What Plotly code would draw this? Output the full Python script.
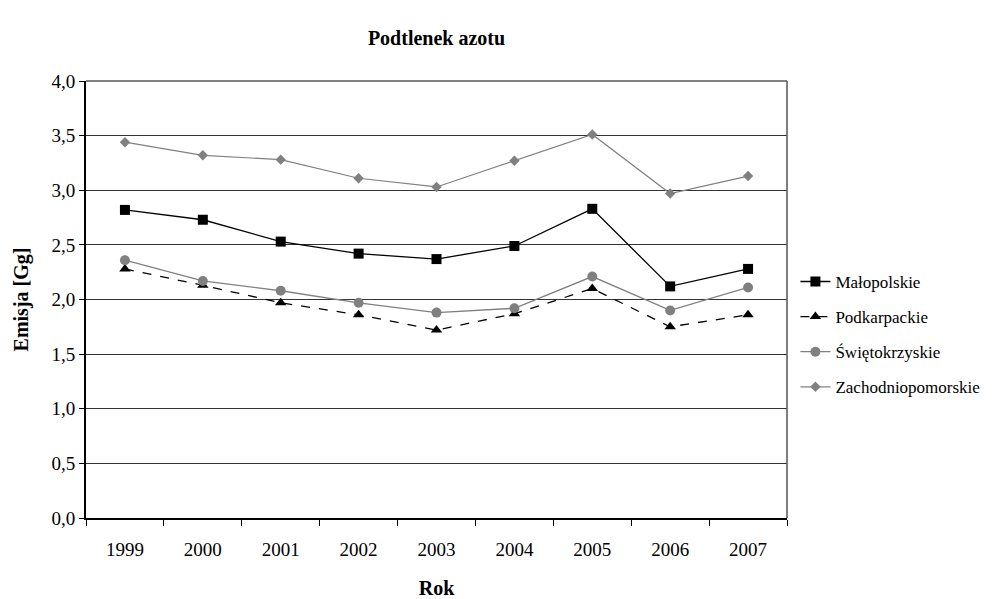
import plotly.graph_objects as go

years = ["1999", "2000", "2001", "2002", "2003", "2004", "2005", "2006", "2007"]
malopolskie = [2.82, 2.73, 2.53, 2.42, 2.37, 2.49, 2.83, 2.12, 2.28]
podkarpackie = [2.28, 2.13, 1.97, 1.86, 1.72, 1.87, 2.10, 1.75, 1.86]
swietokrzyskie = [2.36, 2.17, 2.08, 1.97, 1.88, 1.92, 2.21, 1.90, 2.11]
zachodniopomorskie = [3.44, 3.32, 3.28, 3.11, 3.03, 3.27, 3.51, 2.97, 3.13]
y_ticks = [0.0, 0.5, 1.0, 1.5, 2.0, 2.5, 3.0, 3.5, 4.0]
y_tick_text = ["0,0", "0,5", "1,0", "1,5", "2,0", "2,5", "3,0", "3,5", "4,0"]

FONT = "Liberation Serif"

series = [
    ("Małopolskie", malopolskie, dict(color="black", width=1.3, dash="solid"),
     dict(symbol="square", size=10, color="black")),
    ("Podkarpackie", podkarpackie, dict(color="black", width=1.3, dash="dash"),
     dict(symbol="triangle-up", size=10, color="black")),
    ("Świętokrzyskie", swietokrzyskie, dict(color="#808080", width=1.3, dash="solid"),
     dict(symbol="circle", size=10, color="#808080")),
    ("Zachodniopomorskie", zachodniopomorskie, dict(color="#808080", width=1.2, dash="solid"),
     dict(symbol="diamond", size=8, color="#808080")),
]

fig = go.Figure()
for i, (name, vals, line, marker) in enumerate(series):
    fig.add_trace(go.Scatter(
        x=years, y=vals, name=name, mode="lines+markers",
        line=line, marker=marker, legendgroup=f"g{i}",
    ))

fig.update_layout(
    width=1000, height=599,
    margin=dict(l=86, r=213, t=81, b=81, autoexpand=False),
    paper_bgcolor="white", plot_bgcolor="white",
    font=dict(family=FONT, color="black", size=19),
    title=dict(text="<b>Podtlenek azotu</b>", x=(86 + 350.5) / 1000, xanchor="center",
               y=1 - 38 / 599, yanchor="middle", font=dict(size=20, family=FONT)),
    showlegend=True,
    legend=dict(xref="paper", x=1.012, xanchor="left", y=0.42, yanchor="middle",
                font=dict(size=17, family=FONT), traceorder="grouped",
                tracegroupgap=10, bgcolor="rgba(0,0,0,0)", itemwidth=30),
)

fig.update_xaxes(
    type="category", range=[-0.5, 8.5], automargin=False,
    tickson="boundaries", ticks="outside", ticklen=6, tickcolor="black",
    showline=True, linecolor="black", linewidth=2, mirror=False,
    showgrid=False, tickfont=dict(size=19, family=FONT), ticklabelstandoff=13,
    title=dict(text="<b>Rok</b>", font=dict(size=20, family=FONT), standoff=22),
)
fig.update_yaxes(
    range=[0, 4.0], tickvals=y_ticks, ticktext=y_tick_text, automargin=False,
    ticks="outside", ticklen=5, tickcolor="black",
    showline=True, linecolor="black", linewidth=2,
    showgrid=True, gridcolor="#333333", gridwidth=1, zeroline=False,
    tickfont=dict(size=19, family=FONT),
    title=dict(text="<b>Emisja [Gg]</b>", font=dict(size=20, family=FONT), standoff=17),
)

# frame on the top and right of the plot area
fig.add_shape(type="line", xref="paper", yref="paper", x0=0, x1=1, y0=1, y1=1,
              line=dict(color="#555555", width=1.5))
fig.add_shape(type="line", xref="paper", yref="paper", x0=1, x1=1, y0=0, y1=1,
              line=dict(color="#555555", width=1.5))

fig.write_html("out.html")
